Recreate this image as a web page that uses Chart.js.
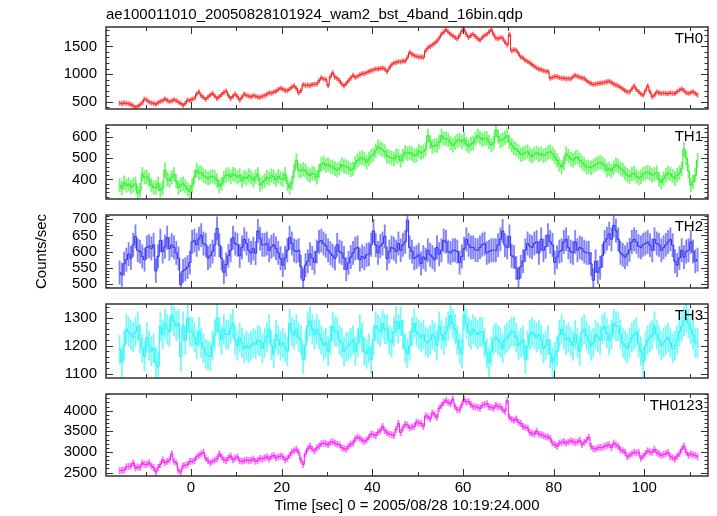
<!DOCTYPE html>
<html>
<head>
<meta charset="utf-8">
<script src="https://cdn.jsdelivr.net/npm/chart.js@4.4.1/dist/chart.umd.min.js"></script>
<style>
  body { margin: 0; background: #fff; }
  #wrap { position: relative; width: 717px; height: 516px; }
  canvas { position: absolute; left: 0; }
</style>
</head>
<body>
<div id="wrap">
  <canvas id="c0" width="717" height="127" style="top:0px"></canvas>
  <canvas id="c1" width="717" height="110" style="top:107px"></canvas>
  <canvas id="c2" width="717" height="109" style="top:197px"></canvas>
  <canvas id="c3" width="717" height="110" style="top:286px"></canvas>
  <canvas id="c4" width="717" height="140" style="top:376px"></canvas>
</div>
<script>
// bins of 0.5 s, first bin centre at -15.75 s
const tStart = -15.75;
const binWidth = 0.5;

const th0 = [
  472,465,478,470,462,448,425,402,415,445,480,548,530,495,478,470,
  455,480,505,520,550,525,500,515,535,520,490,470,435,470,530,520,
  545,560,640,676,610,575,545,585,620,650,600,560,590,630,670,693,
  610,560,600,640,590,530,580,640,615,600,590,610,600,585,580,600,
  610,635,660,655,675,690,720,747,725,705,700,730,765,786,740,660,
  700,808,795,800,790,810,815,820,880,934,910,900,790,950,1023,945,
  924,880,820,786,830,880,930,978,940,960,985,1006,1010,1030,1045,1061,
  1075,1094,1090,1100,1110,1090,1045,1110,1170,1198,1210,1226,1220,1235,1232,1300,
  1391,1360,1336,1320,1308,1310,1300,1420,1474,1500,1528,1560,1594,1650,1721,1760,
  1803,1760,1721,1690,1660,1638,1700,1780,1803,1720,1660,1700,1721,1680,1640,1611,
  1660,1700,1721,1760,1803,1720,1650,1638,1660,1650,1580,1528,1720,1419,1440,1430,
  1370,1308,1290,1250,1226,1200,1171,1140,1110,1089,1080,1060,1050,1045,924,940,
  955,950,935,925,924,915,920,910,950,978,960,940,930,924,880,850,
  830,813,820,830,835,840,850,860,868,850,820,800,786,760,730,700,
  680,676,730,786,720,680,640,620,700,786,680,590,620,676,660,650,
  655,650,645,660,650,650,680,710,731,700,660,650,665,680,650,620
];

const th1 = [
  374,360,385,372,378,365,372,380,336,350,425,410,412,398,374,362,
  362,380,349,360,444,400,395,410,425,392,362,375,380,369,355,343,
  370,410,444,430,432,418,412,405,412,415,410,395,369,380,406,418,
  425,412,425,420,410,418,395,412,405,418,410,395,412,425,374,385,
  395,410,405,418,412,398,415,405,400,425,380,362,385,440,489,444,
  440,448,440,425,418,430,425,410,440,470,477,465,470,460,459,450,
  444,452,470,462,459,455,445,450,475,489,498,502,495,480,495,510,
  515,535,553,545,538,530,508,505,500,495,510,508,489,510,527,520,
  525,520,510,515,534,525,530,540,604,575,553,560,558,575,604,590,
  591,585,570,559,572,580,585,575,588,565,555,565,570,590,604,595,
  585,590,592,575,560,570,629,600,580,585,595,604,575,560,546,540,
  530,515,520,525,530,515,508,520,525,515,520,510,515,525,530,520,
  505,489,470,457,475,520,510,495,490,500,505,490,480,470,457,460,
  455,462,470,475,480,475,465,444,450,440,455,470,462,450,445,430,
  420,413,425,430,415,406,412,425,430,435,428,420,425,432,400,387,
  405,420,430,425,415,405,420,430,450,540,500,440,374,390,420,489
];

const th2 = [
  535,528,562,575,592,580,621,647,604,600,585,575,613,617,610,621,
  540,585,634,600,615,643,609,620,613,596,579,498,540,545,552,566,
  630,634,621,640,651,625,621,580,587,600,621,672,620,579,536,560,
  587,604,643,625,621,587,613,638,625,604,596,609,595,664,640,621,
  621,625,604,615,621,610,596,579,558,580,604,643,625,604,600,604,
  553,511,558,570,592,580,566,600,630,634,625,618,604,595,587,579,
  621,600,596,580,545,565,583,596,609,613,575,585,579,590,592,621,
  664,620,596,617,625,647,579,600,613,609,600,625,604,621,630,697,
  613,600,579,583,590,563,583,575,604,590,583,575,613,592,604,634,
  630,600,596,604,604,600,566,585,609,638,621,613,613,605,604,613,
  621,625,596,600,604,604,604,620,638,664,620,613,647,587,583,549,
  515,553,570,604,625,617,613,625,630,596,638,604,615,651,630,621,
  566,583,600,604,630,638,613,600,596,630,604,613,609,600,596,596,
  562,511,570,536,550,587,630,640,655,638,681,665,638,596,590,583,
  592,605,630,638,630,617,613,621,625,630,620,604,638,625,621,604,
  613,621,630,638,620,570,558,580,604,583,600,604,630,600,570,575
];

const th3 = [
  1185,1141,1200,1259,1249,1239,1230,1249,1269,1225,1190,1161,1229,1200,1180,1190,
  1141,1125,1269,1240,1279,1260,1249,1308,1288,1270,1279,1161,1269,1220,1298,1250,
  1249,1230,1205,1249,1210,1190,1171,1165,1161,1200,1239,1298,1250,1220,1259,1240,
  1239,1260,1279,1220,1200,1229,1210,1190,1200,1190,1200,1210,1205,1220,1215,1190,
  1210,1230,1259,1200,1171,1239,1220,1200,1210,1195,1180,1279,1250,1239,1259,1230,
  1220,1151,1200,1269,1288,1260,1239,1259,1240,1220,1200,1210,1180,1220,1269,1250,
  1249,1220,1210,1180,1195,1200,1210,1220,1180,1210,1259,1229,1180,1171,1190,1151,
  1220,1269,1259,1249,1279,1259,1259,1220,1210,1249,1288,1260,1288,1239,1190,1171,
  1200,1250,1279,1249,1239,1229,1239,1215,1210,1220,1239,1230,1200,1269,1240,1220,
  1249,1270,1308,1279,1260,1220,1190,1171,1308,1279,1250,1239,1259,1249,1239,1249,
  1249,1210,1171,1141,1180,1220,1229,1220,1210,1190,1220,1229,1239,1250,1249,1229,
  1200,1210,1220,1151,1200,1239,1249,1240,1229,1239,1220,1190,1200,1220,1171,1141,
  1160,1180,1239,1259,1240,1220,1229,1215,1200,1239,1210,1180,1249,1259,1235,1220,
  1200,1210,1239,1230,1220,1259,1269,1245,1220,1239,1279,1270,1269,1240,1210,1200,
  1190,1210,1229,1239,1249,1210,1180,1141,1200,1220,1229,1239,1269,1240,1220,1200,
  1210,1220,1229,1210,1190,1200,1220,1250,1269,1288,1298,1280,1259,1239,1210,1210
];

const th0123 = [
  2551,2555,2560,2640,2650,2662,2735,2610,2640,2625,2735,2700,2698,2735,2660,2625,
  2514,2625,2700,2808,2735,2770,2808,2955,2772,2735,2551,2515,2662,2680,2698,2772,
  2772,2790,2882,2920,2956,2992,2845,2790,2735,2772,2800,2831,2956,2880,2809,2794,
  2860,2904,2809,2850,2882,2787,2772,2790,2809,2787,2800,2831,2772,2800,2845,2831,
  2860,2882,2831,2890,2919,2860,2880,2904,2882,2809,2840,2919,3000,3029,3066,2992,
  2809,2698,2956,3080,3139,3066,3029,3100,3139,3200,3213,3198,3176,3230,3250,3213,
  3190,3176,3103,3080,3066,3139,3190,3213,3323,3360,3330,3286,3250,3290,3360,3433,
  3420,3397,3480,3507,3617,3520,3470,3433,3420,3397,3544,3691,3470,3580,3669,3654,
  3580,3600,3617,3727,3700,3691,3617,3874,3850,3801,3948,3900,3838,4058,4120,4205,
  4242,4200,4169,4279,4100,4022,4022,4150,4279,4205,4220,4150,4095,4095,4080,4058,
  4132,4150,4169,4095,4080,4058,4132,4100,4095,4022,3985,4242,3838,3790,3764,3801,
  3720,3691,3617,3600,3580,3470,3450,3433,3507,3433,3420,3397,3370,3360,3323,3213,
  3180,3139,3213,3230,3250,3213,3240,3272,3250,3228,3240,3286,3176,3230,3286,3360,
  3139,3080,3066,3103,3110,3103,3139,3160,3176,3103,3213,3170,3139,3050,3029,2992,
  2882,2920,2956,2992,2980,2992,2845,2900,2956,3029,3000,2992,3066,2990,2956,2919,
  2940,2956,2992,2882,2860,2826,2900,2956,3066,3139,3000,2919,2956,2930,2919,2882
];

const xTicks = [0, 20, 40, 60, 80, 100];
const th0Ticks = [500, 1000, 1500];
const th1Ticks = [400, 500, 600];
const th2Ticks = [500, 550, 600, 650, 700];
const th3Ticks = [1100, 1200, 1300];
const th0123Ticks = [2500, 3000, 3500, 4000];

const FONT = "'Liberation Sans', Arial, Helvetica, sans-serif";
const xMin = -18.75, xMax = 114.05;

const panels = [
  { id: 'c0', name: 'TH0', values: th0, err: 40, min: 368, max: 1851, ticks: th0Ticks, minor: 100, rgb: '245,25,25', padTop: 0, padBottom: 10 },
  { id: 'c1', name: 'TH1', values: th1, err: 32, min: 309, max: 654, ticks: th1Ticks, minor: 20, rgb: '35,240,35', padTop: 10, padBottom: 10 },
  { id: 'c2', name: 'TH2', values: th2, err: 36, min: 487, max: 713.5, ticks: th2Ticks, minor: 10, rgb: '45,45,245', padTop: 10, padBottom: 10 },
  { id: 'c3', name: 'TH3', values: th3, err: 52, min: 1084, max: 1349, ticks: th3Ticks, minor: 20, rgb: '30,245,245', padTop: 10, padBottom: 10 },
  { id: 'c4', name: 'TH0123', values: th0123, err: 75, min: 2418, max: 4404, ticks: th0123Ticks, minor: 100, rgb: '245,25,245', padTop: 10, padBottom: 0 }
];

// frame, inward ticks and panel label
const framePlugin = {
  id: 'frame',
  afterDraw(chart, args, opts) {
    const { ctx, chartArea: a, scales: { x, y } } = chart;
    ctx.save();
    ctx.strokeStyle = '#333';
    ctx.lineWidth = 1;
    ctx.beginPath();
    for (let t = -10; t <= 110; t += 10) {
      const px = Math.round(x.getPixelForValue(t)) + 0.5;
      const len = t % 20 === 0 ? 7 : 4;
      ctx.moveTo(px, a.top); ctx.lineTo(px, a.top + len);
      ctx.moveTo(px, a.bottom); ctx.lineTo(px, a.bottom - len);
    }
    const first = Math.ceil(y.min / opts.minor) * opts.minor;
    for (let v = first; v <= y.max; v += opts.minor) {
      const py = Math.round(y.getPixelForValue(v)) + 0.5;
      const len = opts.majors.includes(v) ? 7 : 3.5;
      ctx.moveTo(a.left, py); ctx.lineTo(a.left + len, py);
      ctx.moveTo(a.right, py); ctx.lineTo(a.right - len, py);
    }
    ctx.stroke();
    ctx.lineWidth = 1.5;
    ctx.strokeRect(a.left, a.top, a.right - a.left, a.bottom - a.top);
    ctx.fillStyle = '#000';
    ctx.font = '15px ' + FONT;
    ctx.textAlign = 'right';
    ctx.textBaseline = 'alphabetic';
    ctx.fillText(opts.label, a.right - 5, a.top + 16);
    ctx.restore();
  }
};

panels.forEach((p, i) => {
  const last = i === panels.length - 1;
  const times = p.values.map((v, k) => tStart + k * binWidth);
  new Chart(document.getElementById(p.id), {
    type: 'line',
    data: {
      datasets: [
        {
          type: 'bar',
          data: p.values.map((v, k) => ({ x: times[k], y: [v - p.err, v + p.err] })),
          backgroundColor: `rgba(${p.rgb},0.6)`,
          borderWidth: 0,
          barThickness: 1.2,
          order: 2
        },
        {
          type: 'line',
          data: p.values.map((v, k) => ({ x: times[k], y: v })),
          borderColor: `rgb(${p.rgb})`,
          borderWidth: 1,
          pointRadius: 0,
          stepped: 'middle',
          order: 1
        }
      ]
    },
    options: {
      responsive: false,
      animation: false,
      events: [],
      layout: { padding: { left: 0, right: 9, top: p.padTop, bottom: p.padBottom } },
      plugins: {
        legend: { display: false },
        tooltip: { enabled: false },
        title: {
          display: i === 0,
          text: 'ae100011010_20050828101924_wam2_bst_4band_16bin.qdp',
          align: 'start',
          fullSize: false,
          color: '#000',
          font: { family: FONT, size: 15, weight: 'normal' },
          padding: { top: 6, bottom: 3 }
        },
        frame: { label: p.name, minor: p.minor, majors: p.ticks }
      },
      scales: {
        x: {
          type: 'linear',
          min: xMin,
          max: xMax,
          offset: false,
          display: last,
          grid: { display: false, drawTicks: false, offset: false },
          border: { display: false },
          afterBuildTicks: s => { s.ticks = xTicks.map(v => ({ value: v })); },
          afterFit: s => { s.height = last ? 40 : 0; },
          ticks: {
            autoSkip: false, maxRotation: 0, padding: 3, color: '#000',
            font: { family: FONT, size: 15 },
            callback: v => String(v)
          },
          title: {
            display: true,
            text: 'Time [sec] 0 = 2005/08/28 10:19:24.000',
            color: '#000',
            font: { family: FONT, size: 15 },
            padding: { top: 0, bottom: 1 }
          }
        },
        y: {
          type: 'linear',
          min: p.min,
          max: p.max,
          grid: { display: false, drawTicks: false },
          border: { display: false },
          afterBuildTicks: s => { s.ticks = p.ticks.map(v => ({ value: v })); },
          afterFit: s => { s.width = 106; },
          ticks: {
            padding: 9, color: '#000',
            font: { family: FONT, size: 15 },
            callback: v => String(v)
          },
          title: {
            display: i === 2,
            text: 'Counts/sec',
            color: '#000',
            font: { family: FONT, size: 15 },
            padding: { top: 33, bottom: 0 }
          }
        }
      }
    },
    plugins: [framePlugin]
  });
});
</script>
</body>
</html>
